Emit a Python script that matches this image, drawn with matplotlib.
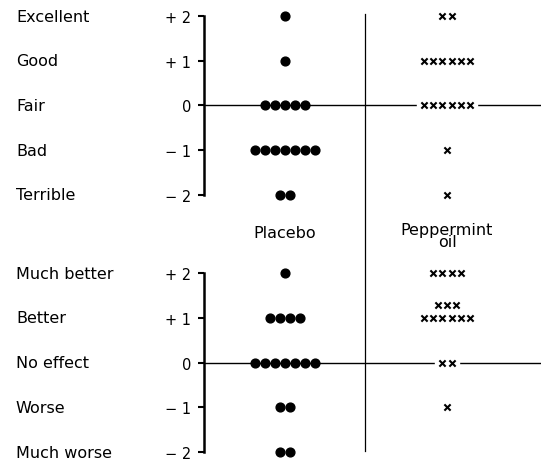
import matplotlib
matplotlib.use("Agg")
import matplotlib.pyplot as plt
from matplotlib.lines import Line2D
import numpy as np

# Scores on the rating scale
scores = [2, 1, 0, -1, -2]
score_labels = ["+ 2", "+ 1", "0", "\u2212 1", "\u2212 2"]

# Top panel: overall assessment
top_categories = ["Excellent", "Good", "Fair", "Bad", "Terrible"]
top_placebo = [1, 1, 5, 7, 2]
top_peppermint = [2, 6, 6, 1, 1]

# Bottom panel: effect on symptoms
bottom_categories = ["Much better", "Better", "No effect", "Worse", "Much worse"]
bottom_placebo = [1, 4, 7, 2, 2]
bottom_peppermint = [4, 9, 2, 1, 0]

group_names = ["Placebo", "Peppermint\noil"]

plt.rcParams['font.family'] = ['DejaVu Sans']

FS = 11.5       # category / group labels
TICK_FS = 10.5  # score labels
DOT_STEP = 0.062
X_STEP = 0.056
ROW_MAX = 6


def draw_panel(ax, categories, placebo, peppermint, show_groups=False):
    ax.set_xlim(-0.5, 1.58)
    ax.set_ylim(-2, 2)
    for side in ['top', 'right', 'bottom']:
        ax.spines[side].set_visible(False)
    ax.spines['left'].set_linewidth(1.8)
    ax.spines['left'].set_bounds(-2, 2)
    ax.set_xticks([])
    ax.set_yticks(scores)
    ax.set_yticklabels(score_labels)
    ax.tick_params(axis='y', direction='out', length=4, width=1.5,
                   labelsize=TICK_FS, pad=5)
    ax.patch.set_visible(False)

    # zero line
    ax.axhline(0, color='black', lw=1.0, zorder=1, clip_on=False)

    for cat, s in zip(categories, scores):
        ax.text(-0.558, s, cat, transform=ax.get_yaxis_transform(),
                ha='left', va='center', fontsize=FS)

    # placebo dots
    for s, n in zip(scores, placebo):
        xs = (np.arange(n) - (n - 1) / 2) * DOT_STEP
        ax.scatter(xs, [s] * n, s=40, color='black', zorder=3, clip_on=False)

    # peppermint crosses, stacked above when a row is full
    for s, n in zip(scores, peppermint):
        row = 0
        left = n
        while left > 0:
            k = min(left, ROW_MAX)
            xs = 1 + (np.arange(k) - (k - 1) / 2) * X_STEP
            y = s + row * 0.28
            ax.scatter(xs, [y] * k, s=110, marker='s', color='white',
                       zorder=2, clip_on=False)
            ax.scatter(xs, [y] * k, s=20, marker='x', color='black',
                       linewidths=1.5, zorder=3, clip_on=False)
            left -= k
            row += 1

    if show_groups:
        ax.text(0, -2.67, group_names[0], ha='center', va='top', fontsize=FS)
        ax.text(1, -2.6, group_names[1], ha='center', va='top', fontsize=FS,
                linespacing=0.8)


fig = plt.figure(figsize=(5.41, 4.60), dpi=100)
ax_top = fig.add_axes([0.377, 0.574, 0.623, 0.389])
ax_bot = fig.add_axes([0.377, 0.015, 0.623, 0.389])

draw_panel(ax_top, top_categories, top_placebo, top_peppermint, show_groups=True)
draw_panel(ax_bot, bottom_categories, bottom_placebo, bottom_peppermint)

# divider between the two treatment columns
fig.add_artist(Line2D([0.675, 0.675], [0.967, 0.017], color='black', lw=0.9,
                      transform=fig.transFigure))

fig.savefig("out.png", dpi=100)
